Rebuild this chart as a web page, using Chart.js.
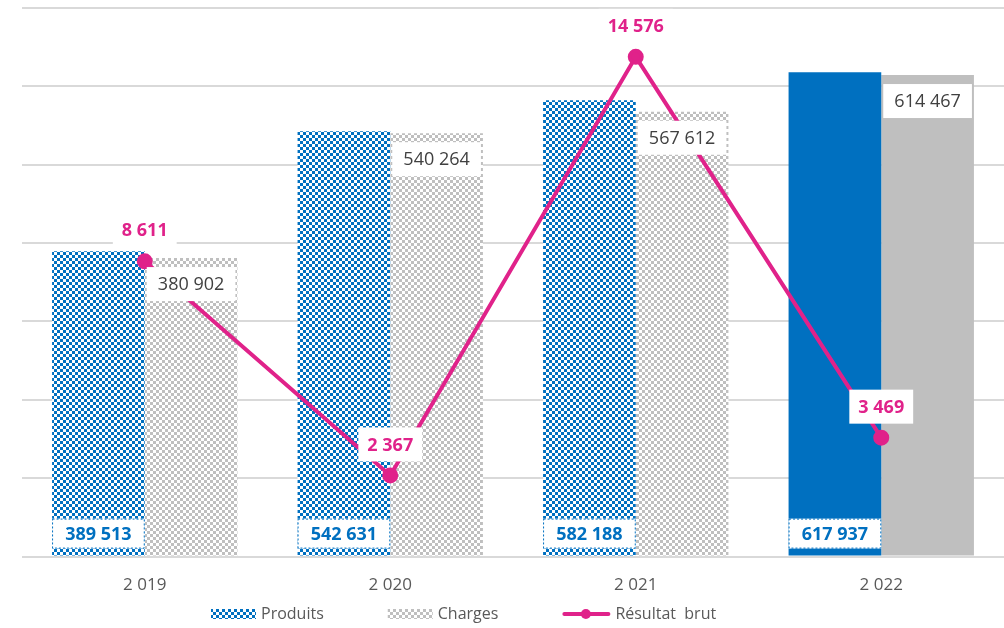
<!DOCTYPE html>
<html>
<head>
<meta charset="utf-8">
<script src="https://cdn.jsdelivr.net/npm/chart.js@4"></script>
<style>
  html, body { margin: 0; padding: 0; background: #fff; overflow: hidden; }
  #wrap { width: 1004px; height: 628px; }
  canvas { display: block; }
</style>
</head>
<body>
<div id="wrap"><canvas id="resultatChart"></canvas></div>
<script>
const annees = ["2 019", "2 020", "2 021", "2 022"];
const produits = [389513, 542631, 582188, 617937];
const charges = [380902, 540264, 567612, 614467];
const resultatBrut = [8611, 2367, 14576, 3469];

const BLEU = "#0070C0";
const GRIS = "#BFBFBF";
const ROSE = "#E0228A";
const TEXTE = "#595959";
const POLICE = "'Open Sans', sans-serif";

// petit motif damier pour les barres hachurées
function damier(fond, carre) {
    const c = document.createElement("canvas");
    c.width = 6; c.height = 6;
    const g = c.getContext("2d");
    g.fillStyle = fond;
    g.fillRect(0, 0, 6, 6);
    g.fillStyle = carre;
    g.fillRect(0, 0, 3, 3);
    g.fillRect(3, 3, 3, 3);
    return g.createPattern(c, "repeat");
}
const motifBleu = damier(BLEU, "#ffffff");
const motifGris = damier("#ffffff", GRIS);

function fmt(v) {
    return String(v).replace(/\B(?=(\d{3})+(?!\d))/g, " ");
}

function boite(ctx, txt, cx, cy, w, h, couleur, gras, bord) {
    ctx.font = (gras ? "bold " : "") + "18px " + POLICE;
    if (!w) w = ctx.measureText(txt).width + 18;
    ctx.fillStyle = "#fff";
    ctx.fillRect(cx - w / 2, cy - h / 2, w, h);
    if (bord) {
        ctx.save();
        ctx.strokeStyle = bord;
        ctx.lineWidth = 1;
        ctx.setLineDash([2, 2]);
        ctx.strokeRect(cx - w / 2 + 0.5, cy - h / 2 + 0.5, w - 1, h - 1);
        ctx.restore();
    }
    ctx.fillStyle = couleur;
    ctx.textAlign = "center";
    ctx.textBaseline = "middle";
    ctx.fillText(txt, cx, cy + 1);
}

const etiquettes = {
    id: "etiquettes",
    afterDatasetsDraw(chart) {
        const ctx = chart.ctx;
        ctx.save();
        const bas = chart.scales.y.getPixelForValue(0);
        chart.getDatasetMeta(1).data.forEach((b, i) => {
            boite(ctx, fmt(produits[i]), b.x, bas - 23, b.width, 30, BLEU, true, BLEU);
        });
        chart.getDatasetMeta(2).data.forEach((b, i) => {
            boite(ctx, fmt(charges[i]), b.x, b.y + 26, b.width - 4, 34, "#404040", false, null);
        });
        chart.getDatasetMeta(0).data.forEach((p, i) => {
            boite(ctx, fmt(resultatBrut[i]), p.x, p.y - 31, 0, 34, ROSE, true, null);
        });
        ctx.restore();
    }
};

// légende dessinée à la main en bas
const legende = {
    id: "legende",
    afterDraw(chart) {
        const ctx = chart.ctx;
        const items = [
            { texte: "Produits", motif: motifBleu },
            { texte: "Charges", motif: motifGris },
            { texte: "Résultat  brut", ligne: true }
        ];
        ctx.save();
        ctx.font = "16px " + POLICE;
        const icone = 45, ecart = 5, entre = 64;
        let x = 211;
        const y = 614;
        items.forEach((it) => {
            if (it.ligne) {
                ctx.strokeStyle = ROSE;
                ctx.lineWidth = 4;
                ctx.lineCap = "round";
                ctx.beginPath(); ctx.moveTo(x + 2, y); ctx.lineTo(x + icone + 1, y); ctx.stroke();
                ctx.fillStyle = ROSE;
                ctx.beginPath(); ctx.arc(x + icone / 2 + 1, y, 5, 0, Math.PI * 2); ctx.fill();
                x += 3;
            } else {
                ctx.fillStyle = it.motif;
                ctx.fillRect(x, y - 5, icone, 10);
            }
            x += icone + ecart;
            ctx.fillStyle = TEXTE;
            ctx.textAlign = "left";
            ctx.textBaseline = "middle";
            ctx.fillText(it.texte, x, y);
            x += ctx.measureText(it.texte).width + entre;
        });
        ctx.restore();
    }
};

new Chart(document.getElementById("resultatChart"), {
    type: "bar",
    plugins: [etiquettes, legende],
    data: {
        labels: annees,
        datasets: [
            {
                type: "line",
                label: "Résultat  brut",
                data: resultatBrut,
                yAxisID: "y1",
                borderColor: ROSE,
                backgroundColor: ROSE,
                borderWidth: 4,
                pointRadius: 6,
                pointHoverRadius: 6,
                tension: 0,
                clip: false,
                order: 0
            },
            {
                label: "Produits",
                data: produits,
                backgroundColor: [motifBleu, motifBleu, motifBleu, BLEU],
                categoryPercentage: 0.755,
                barPercentage: 1,
                order: 1
            },
            {
                label: "Charges",
                data: charges,
                backgroundColor: [motifGris, motifGris, motifGris, GRIS],
                categoryPercentage: 0.755,
                barPercentage: 1,
                order: 2
            }
        ]
    },
    options: {
        responsive: true,
        maintainAspectRatio: false,
        animation: false,
        layout: { autoPadding: false, padding: { left: 22, right: 0, top: 8, bottom: 15 } },
        plugins: {
            tooltip: { enabled: false },
            legend: { display: false }
        },
        scales: {
            x: {
                grid: { display: false, drawTicks: false },
                border: { display: false },
                ticks: { color: TEXTE, font: { size: 17, family: POLICE }, padding: 18 }
            },
            y: {
                min: 0,
                max: 700000,
                ticks: { display: false, stepSize: 100000 },
                border: { display: false },
                grid: { color: "#D9D9D9", lineWidth: 2, drawTicks: false }
            },
            y1: {
                display: false,
                min: 0,
                max: 16000
            }
        }
    }
});
</script>
</body>
</html>
